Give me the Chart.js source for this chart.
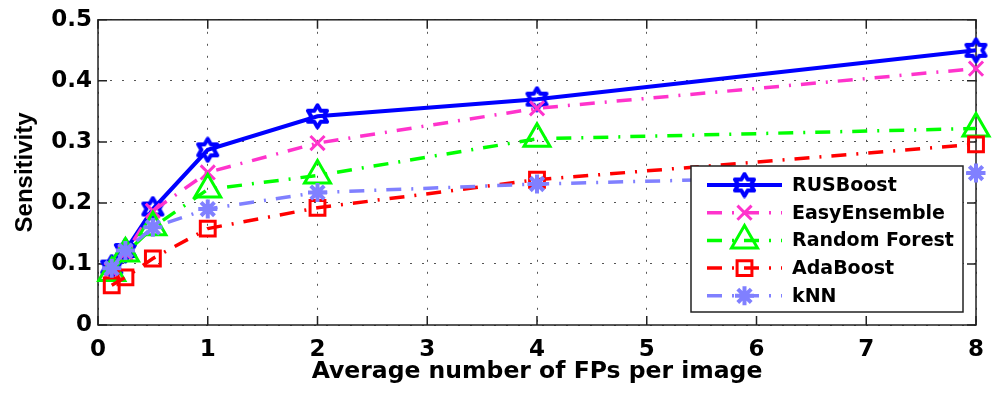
<!DOCTYPE html>
<html>
<head>
<meta charset="utf-8">
<title>Sensitivity vs FPs</title>
<script src="https://cdn.jsdelivr.net/npm/chart.js@4/dist/chart.umd.min.js"></script>
<style>
  html, body { margin: 0; padding: 0; background: #fff; }
  #wrap { width: 997px; height: 400px; }
</style>
</head>
<body>
<div id="wrap"><canvas id="myChart" width="997" height="400"></canvas></div>
<script>
// average false positives per image
var fps = [0.125, 0.25, 0.5, 1, 2, 4, 8];

var rusBoost     = [0.095, 0.122, 0.190, 0.287, 0.342, 0.370, 0.450];
var easyEnsemble = [0.090, 0.118, 0.187, 0.250, 0.298, 0.355, 0.420];
var randomForest = [0.085, 0.117, 0.160, 0.222, 0.245, 0.305, 0.322];
var adaBoost     = [0.065, 0.078, 0.109, 0.158, 0.192, 0.238, 0.296];
var knn          = [0.093, 0.122, 0.160, 0.190, 0.217, 0.231, 0.249];

var seriesNames = ['RUSBoost', 'EasyEnsemble', 'Random Forest', 'AdaBoost', 'kNN'];

var xTicks = [0, 1, 2, 3, 4, 5, 6, 7, 8];
var yTicks = [0, 0.1, 0.2, 0.3, 0.4, 0.5];

// six pointed star marker (matlab 'hexagram')
function hexagram(color, size, lw) {
  var c = document.createElement('canvas');
  c.width = size; c.height = size;
  var g = c.getContext('2d');
  var cx = size / 2, cy = size / 2;
  var ro = size / 2 - lw / 2 - 0.5, ri = ro / Math.sqrt(3);
  g.beginPath();
  for (var i = 0; i < 12; i++) {
    var r = (i % 2 === 0) ? ro : ri;
    var a = -Math.PI / 2 + i * Math.PI / 6;
    var px = cx + r * Math.cos(a), py = cy + r * Math.sin(a);
    if (i === 0) g.moveTo(px, py); else g.lineTo(px, py);
  }
  g.closePath();
  g.lineWidth = lw;
  g.lineJoin = 'round';
  g.strokeStyle = color;
  g.stroke();
  return c;
}

var dashDot = [15, 10, 2, 10];

function pts(ys) {
  return fps.map(function(x, i) { return { x: x, y: ys[i] }; });
}

function series(label, ys, color, dash, style, radius, width, order) {
  return {
    label: label,
    data: pts(ys),
    borderColor: color,
    backgroundColor: color,
    borderWidth: width,
    borderDash: dash,
    borderCapStyle: 'butt',
    pointStyle: style,
    pointRadius: radius,
    pointHoverRadius: radius,
    pointBorderColor: color,
    pointBackgroundColor: 'rgba(0,0,0,0)',
    pointBorderWidth: 3,
    tension: 0,
    clip: false,
    order: order
  };
}

var datasets = [
  series(seriesNames[0], rusBoost, '#0000ff', [], hexagram('#0000ff', 27, 4), 12, 4, 5),
  series(seriesNames[1], easyEnsemble, '#ff33cc', dashDot, 'crossRot', 10, 3.5, 4),
  series(seriesNames[2], randomForest, '#00ff00', dashDot, 'triangle', 15, 3.5, 3),
  series(seriesNames[3], adaBoost, '#ff0000', dashDot, 'rect', 10.5, 3.5, 2),
  series(seriesNames[4], knn, '#8080ff', dashDot, 'star', 9.5, 3.5, 1)
];
datasets[4].pointBorderWidth = 4;

// axes box with inward tick marks
var boxPlugin = {
  id: 'box',
  beforeDatasetsDraw: function(chart) {
    var ctx = chart.ctx, a = chart.chartArea;
    var sx = chart.scales.x, sy = chart.scales.y;
    var tl = 9;
    ctx.save();
    ctx.strokeStyle = '#222';
    ctx.lineWidth = 1.5;
    ctx.setLineDash([]);
    ctx.strokeRect(a.left, a.top, a.right - a.left, a.bottom - a.top);
    ctx.beginPath();
    xTicks.forEach(function(v) {
      var px = sx.getPixelForValue(v);
      ctx.moveTo(px, a.bottom); ctx.lineTo(px, a.bottom - tl);
      ctx.moveTo(px, a.top); ctx.lineTo(px, a.top + tl);
    });
    yTicks.forEach(function(v) {
      var py = sy.getPixelForValue(v);
      ctx.moveTo(a.left, py); ctx.lineTo(a.left + tl, py);
      ctx.moveTo(a.right, py); ctx.lineTo(a.right - tl, py);
    });
    ctx.stroke();
    ctx.restore();
  }
};

// legend box in the lower right corner, line sample with marker in the middle
var legendPlugin = {
  id: 'boxLegend',
  afterDatasetsDraw: function(chart) {
    var ctx = chart.ctx, a = chart.chartArea;
    var w = 272, h = 146;
    var x0 = a.right - 13 - w, y0 = a.bottom - 13 - h;
    ctx.save();
    ctx.setLineDash([]);
    ctx.fillStyle = '#fff';
    ctx.fillRect(x0, y0, w, h);
    ctx.strokeStyle = '#222';
    ctx.lineWidth = 1.5;
    ctx.strokeRect(x0, y0, w, h);
    chart.data.datasets.forEach(function(ds, i) {
      var y = y0 + 19 + i * 27.7;
      var lx0 = x0 + 16, lx1 = x0 + 91, mx = (lx0 + lx1) / 2;
      ctx.strokeStyle = ds.borderColor;
      ctx.lineWidth = ds.borderWidth;
      ctx.lineCap = 'butt';
      ctx.setLineDash(ds.borderDash);
      ctx.beginPath();
      ctx.moveTo(lx0, y); ctx.lineTo(lx1, y);
      ctx.stroke();
      ctx.setLineDash([]);
      ctx.lineWidth = ds.pointBorderWidth;
      ctx.strokeStyle = ds.pointBorderColor;
      ctx.fillStyle = 'rgba(0,0,0,0)';
      Chart.helpers.drawPoint(ctx, {
        pointStyle: ds.pointStyle, radius: ds.pointRadius,
        borderWidth: ds.pointBorderWidth, rotation: 0
      }, mx, y);
      ctx.fillStyle = '#000';
      ctx.font = 'bold 19px "DejaVu Sans"';
      ctx.textBaseline = 'middle';
      ctx.textAlign = 'left';
      ctx.fillText(ds.label, x0 + 101, y + 1);
    });
    ctx.restore();
  }
};

var ctx = document.getElementById('myChart');

var chart = new Chart(ctx, {
  type: 'line',
  data: { datasets: datasets },
  plugins: [boxPlugin, legendPlugin],
  options: {
    responsive: false,
    animation: false,
    events: [],
    layout: { padding: { left: 0, top: 18, right: 21, bottom: 0 } },
    plugins: {
      legend: { display: false },
      tooltip: { enabled: false }
    },
    scales: {
      x: {
        type: 'linear',
        min: 0,
        max: 8,
        afterBuildTicks: function(scale) {
          scale.ticks = xTicks.map(function(v) { return { value: v }; });
        },
        afterFit: function(scale) { scale.height = 75; },
        grid: { color: '#555', lineWidth: 1, drawTicks: false },
        border: { display: false, dash: [2, 10] },
        ticks: {
          color: '#000',
          padding: 11,
          maxRotation: 0,
          font: { family: 'DejaVu Sans', size: 23, weight: 'bold' },
          callback: function(v) { return String(v); }
        },
        title: {
          display: true,
          text: 'Average number of FPs per image',
          color: '#000',
          padding: { top: 0, bottom: 14 },
          font: { family: 'DejaVu Sans', size: 23.5, weight: 'bold' }
        }
      },
      y: {
        min: 0,
        max: 0.5,
        afterBuildTicks: function(scale) {
          scale.ticks = yTicks.map(function(v) { return { value: v }; });
        },
        afterFit: function(scale) { scale.width = 98; },
        grid: { color: '#555', lineWidth: 1, drawTicks: false },
        border: { display: false, dash: [2, 10] },
        ticks: {
          color: '#000',
          padding: 6,
          font: { family: 'DejaVu Sans', size: 23, weight: 'bold' },
          callback: function(v) { return String(+v.toFixed(1)); }
        },
        title: {
          display: true,
          text: 'Sensitivity',
          color: '#000',
          padding: { top: 11, bottom: 0 },
          font: { family: 'Liberation Sans', size: 24, weight: 'bold' }
        }
      }
    }
  }
});
</script>
</body>
</html>
